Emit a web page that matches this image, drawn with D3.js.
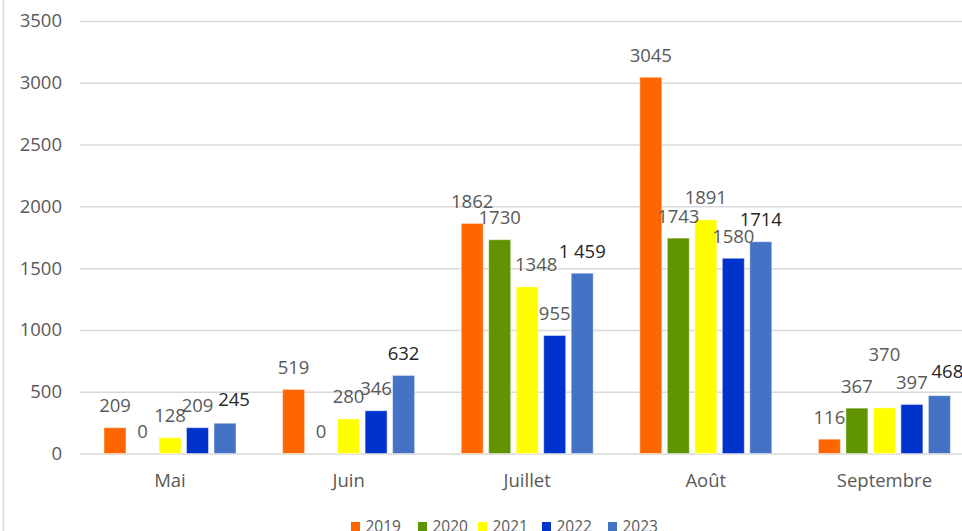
<!DOCTYPE html>
<html>
<head>
<meta charset="utf-8">
<script src="https://cdn.jsdelivr.net/npm/d3@7"></script>
<style>
  body { margin: 0; background: #fff; overflow: hidden; }
  text { font-family: "Open Sans", "Noto Sans", sans-serif; }
</style>
</head>
<body>
<div id="chart"></div>
<script>
// data
var months = ["Mai", "Juin", "Juillet", "Août", "Septembre"];
var years = ["2019", "2020", "2021", "2022", "2023"];
var v2019 = [209, 519, 1862, 3045, 116];
var v2020 = [0, 0, 1730, 1743, 367];
var v2021 = [128, 280, 1348, 1891, 370];
var v2022 = [209, 346, 955, 1580, 397];
var v2023 = [245, 632, 1459, 1714, 468];
var yTicks = [0, 500, 1000, 1500, 2000, 2500, 3000, 3500];

var seriesValues = [v2019, v2020, v2021, v2022, v2023];
var colors = ["#ff6600", "#5f9400", "#ffff00", "#0033cc", "#4472c4"];

// labels that were dragged by hand in the original
var labelNudge = {
  "Mai-2023": [9, -2],
  "Juillet-2021": [9, 0],
  "Septembre-2021": [0, -31],
  "Septembre-2023": [8, -2]
};
var labelText = { "Juillet-2023": "1 459" };

var svgWidth = 962, svgHeight = 531;

var svg = d3.select("#chart").append("svg")
  .attr("width", svgWidth)
  .attr("height", svgHeight);

// table built from the arrays
var rows = [];
months.forEach(function(m, i) {
  years.forEach(function(y, j) {
    rows.push({ month: m, year: y, value: seriesValues[j][i] });
  });
});

var x0 = d3.scaleBand().domain(months).range([80.7, 973.7]);
var x1 = d3.scaleBand().domain(years).range([23.3, 155.3]).paddingInner(0.2);
var y = d3.scaleLinear().domain([0, 3500]).range([453.5, 21]);

// outer left border
svg.append("line")
  .attr("x1", 3.5).attr("x2", 3.5)
  .attr("y1", 0).attr("y2", svgHeight)
  .attr("stroke", "#d9d9d9").attr("stroke-width", 1.5);

// gridlines + tick labels
var yAxis = d3.axisLeft(y).tickValues(yTicks).tickFormat(d3.format("d")).tickSize(0).tickPadding(18);
var gy = svg.append("g").attr("transform", "translate(80,0)").call(yAxis);
gy.select(".domain").remove();
gy.selectAll(".tick line").remove();
gy.selectAll(".tick").append("line")
  .attr("x1", 0).attr("x2", svgWidth)
  .attr("stroke", "#d9d9d9").attr("stroke-width", 1.5);
gy.selectAll(".tick text")
  .attr("font-size", "18.5px")
  .attr("fill", "#595959")
  .attr("font-family", "'Open Sans', sans-serif");

// category axis
var xAxis = d3.axisBottom(x0).tickSize(0).tickPadding(0);
var gx = svg.append("g").attr("transform", "translate(0,453.5)").call(xAxis);
gx.select(".domain").remove();
gx.selectAll(".tick text")
  .attr("dy", null)
  .attr("y", 33.5)
  .attr("font-size", "18.5px")
  .attr("fill", "#595959")
  .attr("font-family", "'Open Sans', sans-serif");

// bars
svg.append("g").selectAll("rect")
  .data(rows)
  .enter()
  .append("rect")
  .attr("x", function(d) { return x0(d.month) + x1(d.year); })
  .attr("y", function(d) { return y(d.value); })
  .attr("width", x1.bandwidth())
  .attr("height", function(d) { return y(0) - y(d.value); })
  .attr("fill", function(d) { return colors[years.indexOf(d.year)]; })
  .attr("stroke", "#ffffff")
  .attr("stroke-opacity", 0.45)
  .attr("stroke-width", 1);

// value labels
svg.append("g").selectAll("text")
  .data(rows)
  .enter()
  .append("text")
  .attr("x", function(d) {
    var n = labelNudge[d.month + "-" + d.year] || [0, 0];
    return x0(d.month) + x1(d.year) + x1.bandwidth() / 2 + n[0];
  })
  .attr("y", function(d) {
    var n = labelNudge[d.month + "-" + d.year] || [0, 0];
    return y(d.value) - 15.5 + n[1];
  })
  .attr("text-anchor", "middle")
  .attr("font-size", "18.5px")
  .attr("fill", function(d) { return d.year === "2023" ? "#262626" : "#595959"; })
  .text(function(d) { return labelText[d.month + "-" + d.year] || d.value; });

// legend, cut by the bottom edge like the original
var legendX = [351, 418, 478, 542, 608];
var legend = svg.append("g").selectAll("g")
  .data(years)
  .enter()
  .append("g")
  .attr("transform", function(d, i) { return "translate(" + legendX[i] + ",0)"; });

legend.append("rect")
  .attr("x", 0).attr("y", 522)
  .attr("width", 9).attr("height", 9)
  .attr("fill", function(d, i) { return colors[i]; });

legend.append("text")
  .attr("x", 14.5).attr("y", 531.5)
  .attr("font-size", "15.5px")
  .attr("fill", "#595959")
  .text(function(d) { return d; });
</script>
</body>
</html>
